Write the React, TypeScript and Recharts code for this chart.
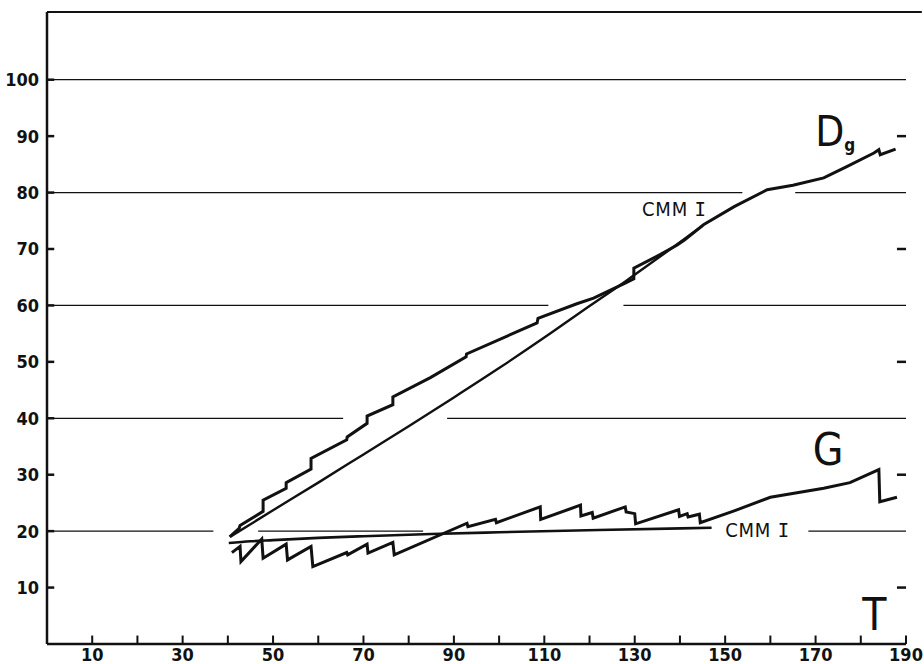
import React from "react";
import {
  LineChart,
  Line,
  XAxis,
  YAxis,
  ReferenceLine,
  ReferenceDot,
} from "recharts";

// observed dominant-height curve D_g (stepped)
const dgT = [40.4, 42.5, 42.7, 47.8, 47.8, 52.9, 52.9, 58.4, 58.4, 66.3, 66.4, 70.8, 70.8, 76.5, 76.5, 84.8, 92.7, 92.8, 108.4, 108.6, 117.2, 120.9, 128.0, 129.8, 129.8, 135.6, 139.4, 141.0, 145.2, 152.0, 159.3, 165.0, 171.8, 176.9, 182.9, 184.0, 184.3, 187.7];
const dgVal = [19.0, 20.5, 21.0, 23.5, 25.5, 27.6, 28.6, 31.0, 32.9, 36.2, 36.7, 39.1, 40.4, 42.4, 43.8, 47.2, 50.9, 51.4, 56.9, 57.7, 60.3, 61.3, 64.0, 64.7, 66.6, 69.0, 70.7, 71.6, 74.3, 77.5, 80.5, 81.3, 82.6, 84.6, 87.0, 87.6, 86.7, 87.7];

// model curve CMM I for D_g
const dgCmmT = [40.5, 50, 60, 70, 80, 90, 100, 110, 120, 128, 135, 140, 145];
const dgCmmVal = [19.0, 23.7, 28.6, 33.6, 38.6, 43.7, 48.9, 54.3, 59.9, 64.3, 68.3, 71.2, 74.1];

// observed basal area curve G (saw-tooth)
const gT = [40.9, 42.7, 42.9, 47.5, 47.8, 52.9, 53.2, 58.4, 58.8, 66.3, 66.5, 70.8, 71.0, 76.5, 76.8, 92.9, 93.1, 99.2, 99.4, 109.1, 109.2, 118.0, 118.1, 120.6, 120.8, 127.9, 128.1, 130.0, 130.2, 139.7, 139.9, 141.6, 141.8, 144.3, 144.5, 152.0, 160.0, 171.8, 177.6, 184.0, 184.2, 188.0];
const gVal = [16.2, 17.3, 14.6, 18.6, 15.2, 17.7, 14.9, 17.3, 13.7, 16.2, 15.8, 17.7, 16.1, 18.0, 15.8, 21.4, 20.8, 22.1, 21.5, 24.3, 22.1, 24.6, 22.7, 23.3, 22.3, 24.3, 23.4, 23.1, 21.3, 23.8, 22.6, 23.1, 22.5, 23.0, 21.5, 23.6, 26.0, 27.6, 28.6, 30.9, 25.2, 26.0];

// model curve CMM I for G
const gCmmT = [40.2, 45, 50, 60, 70, 85, 100, 122, 147];
const gCmmVal = [17.9, 18.2, 18.4, 18.8, 19.1, 19.5, 19.8, 20.2, 20.6];

const xLabelTicks = [10, 30, 50, 70, 90, 110, 130, 150, 170, 190];
const xMinorTicks = [10, 20, 30, 40, 50, 60, 70, 80, 90, 100, 110, 120, 130, 140, 150, 160, 170, 180, 190];
const yTicks = [10, 20, 30, 40, 50, 60, 70, 80, 90, 100];
const yRightTicks = [10, 30, 50, 70, 90];

// horizontal rules with the gaps left for curves and labels: [y, from, to]
const gridRules: [number, number, number][] = [
  [20, 0, 36.8],
  [20, 46.7, 83.2],
  [20, 168.4, 190],
  [40, 0, 65.5],
  [40, 88.5, 190],
  [60, 0, 110.9],
  [60, 127.5, 190],
  [80, 0, 153.8],
  [80, 165.5, 190],
  [100, 0, 190],
];

const zip = (t: number[], v: number[]) => t.map((x, i) => ({ t: x, v: v[i] }));

const dgData = zip(dgT, dgVal);
const dgCmmData = zip(dgCmmT, dgCmmVal);
const gData = zip(gT, gVal);
const gCmmData = zip(gCmmT, gCmmVal);

const FONT = '"Liberation Sans Narrow", "DejaVu Sans Condensed", sans-serif';
const INK = "#111";

const textLabel = (render: (x: number, y: number) => React.ReactNode) => (props: any) => {
  const vb = props.viewBox || {};
  const x = (vb.x ?? 0) + (vb.width ?? 0) / 2;
  const y = (vb.y ?? 0) + (vb.height ?? 0) / 2;
  return <g>{render(x, y)}</g>;
};

const cmmLabel = (x: number, y: number) => (
  <text x={x} y={y} fill={INK} fontFamily={FONT} fontSize={20} letterSpacing={0.8}>
    CMM <tspan fontFamily='"DejaVu Sans Mono", monospace' fontSize={19}>I</tspan>
  </text>
);

export default function App() {
  return (
    <div style={{ position: "absolute", left: 0, top: 0, background: "#fff" }}>
      <LineChart
        width={924}
        height={664}
        margin={{ top: 12, right: 18, bottom: 0, left: 0 }}
      >
        <XAxis
          type="number"
          dataKey="t"
          domain={[0, 190]}
          ticks={xLabelTicks}
          allowDataOverflow
          height={20}
          tickLine={false}
          tickSize={0}
          tickMargin={4}
          axisLine={{ stroke: INK, strokeWidth: 2.5 }}
          tick={{ fill: INK, fontSize: 18, fontWeight: 700, fontFamily: FONT }}
        />
        <YAxis
          type="number"
          domain={[0, 112]}
          ticks={yTicks}
          allowDataOverflow
          width={47}
          tickLine={false}
          tickSize={0}
          tickMargin={8}
          axisLine={{ stroke: INK, strokeWidth: 2.5 }}
          tick={{ fill: INK, fontSize: 18, fontWeight: 700, fontFamily: FONT }}
        />

        {gridRules.map(([y, a, b], i) => (
          <ReferenceLine
            key={"g" + i}
            segment={[{ x: a, y }, { x: b, y }]}
            stroke={INK}
            strokeWidth={1.3}
          />
        ))}
        <ReferenceLine
          segment={[{ x: 0, y: 112 }, { x: 193.5, y: 112 }]}
          stroke={INK}
          strokeWidth={2}
          ifOverflow="visible"
        />
        {yTicks.map((v) => (
          <ReferenceLine key={"yl" + v} segment={[{ x: 0, y: v }, { x: 1.6, y: v }]} stroke={INK} strokeWidth={2.5} />
        ))}
        {yRightTicks.map((v) => (
          <ReferenceLine key={"yr" + v} segment={[{ x: 188, y: v }, { x: 190, y: v }]} stroke={INK} strokeWidth={2.5} />
        ))}
        {xMinorTicks.map((v) => (
          <ReferenceLine key={"x" + v} segment={[{ x: v, y: 0 }, { x: v, y: 1.5 }]} stroke={INK} strokeWidth={2} />
        ))}

        <Line data={dgCmmData} dataKey="v" type="monotone" stroke={INK} strokeWidth={2.4} dot={false} isAnimationActive={false} />
        <Line data={dgData} dataKey="v" type="linear" stroke={INK} strokeWidth={3} dot={false} isAnimationActive={false} strokeLinejoin="miter" />
        <Line data={gCmmData} dataKey="v" type="monotone" stroke={INK} strokeWidth={2.6} dot={false} isAnimationActive={false} />
        <Line data={gData} dataKey="v" type="linear" stroke={INK} strokeWidth={3} dot={false} isAnimationActive={false} strokeLinejoin="miter" />

        <ReferenceDot
          x={169.9}
          y={88.3}
          r={0}
          fill="none"
          stroke="none"
          label={textLabel((x, y) => (
            <text x={x} y={y} fill={INK} fontFamily={FONT} fontSize={42}>
              D<tspan fontSize={17} fontWeight={700} dy={5}>g</tspan>
            </text>
          ))}
        />
        <ReferenceDot
          x={169.4}
          y={31.7}
          r={0}
          fill="none"
          stroke="none"
          label={textLabel((x, y) => (
            <text x={x} y={y} fill={INK} fontFamily={FONT} fontSize={44}>G</text>
          ))}
        />
        <ReferenceDot
          x={180.3}
          y={2.5}
          r={0}
          fill="none"
          stroke="none"
          label={textLabel((x, y) => (
            <text x={x} y={y} fill={INK} fontFamily={FONT} fontSize={44}>T</text>
          ))}
        />
        <ReferenceDot x={131.6} y={75.8} r={0} fill="none" stroke="none" label={textLabel(cmmLabel)} />
        <ReferenceDot x={150.0} y={19.0} r={0} fill="none" stroke="none" label={textLabel(cmmLabel)} />
      </LineChart>
    </div>
  );
}
